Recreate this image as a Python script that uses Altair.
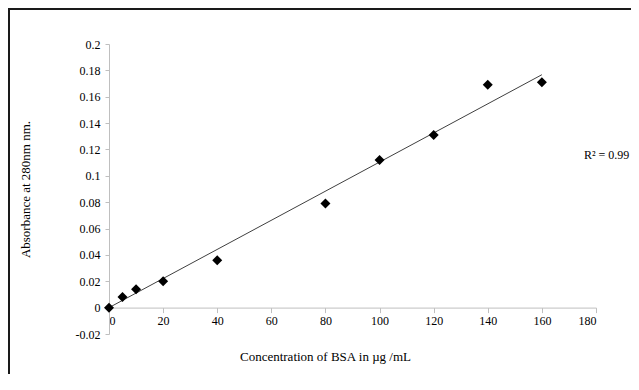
import altair as alt
import numpy as np
import pandas as pd

# Data
concentration = [0, 5, 10, 20, 40, 80, 100, 120, 140, 160]
absorbance = [0.0, 0.008, 0.014, 0.020, 0.036, 0.079, 0.112, 0.131, 0.169, 0.171]
x_ticks = [0, 20, 40, 60, 80, 100, 120, 140, 160, 180]
y_ticks = [-0.02, 0, 0.02, 0.04, 0.06, 0.08, 0.1, 0.12, 0.14, 0.16, 0.18, 0.2]
r2_label = "R² = 0.99"

df = pd.DataFrame({"conc": concentration, "abs": absorbance})

# Linear trendline forced through the origin (as in the spreadsheet chart)
xs = np.array(concentration, dtype=float)
ys = np.array(absorbance, dtype=float)
slope = float((xs * ys).sum() / (xs * xs).sum())
trend = pd.DataFrame({"conc": [0.0, xs.max()], "abs": [0.0, slope * xs.max()]})

W, H = 487, 290
FONT = "Liberation Serif"

x_enc = alt.X(
    "conc:Q",
    scale=alt.Scale(domain=[0, 180], nice=False),
    axis=alt.Axis(
        values=x_ticks,
        title="Concentration of BSA in µg /mL",
        offset=-26.4,
        grid=False,
        domainColor="#bfbfbf",
        tickColor="#bfbfbf",
        tickSize=5,
        labelPadding=3,
        titlePadding=24,
        titleX=216,
        labelOverlap=False,
    ),
)
y_enc = alt.Y(
    "abs:Q",
    scale=alt.Scale(domain=[-0.02, 0.2], nice=False),
    axis=alt.Axis(
        values=y_ticks,
        title="Absorbance at 280nm nm.",
        labelExpr="replace(format(datum.value, '~g'), '−', '-')",
        grid=False,
        domainColor="#bfbfbf",
        tickColor="#bfbfbf",
        tickSize=4,
        labelPadding=5,
        titlePadding=43,
        labelOverlap=False,
    ),
)

line = alt.Chart(trend).mark_line(color="#404040", strokeWidth=1).encode(x=x_enc, y=y_enc)
points = alt.Chart(df).mark_point(
    shape="diamond", filled=True, color="black", size=100, opacity=1
).encode(x=x_enc, y=y_enc)

label = alt.Chart(pd.DataFrame({"t": [r2_label]})).mark_text(
    align="left", baseline="middle", font=FONT, fontSize=12, color="black"
).encode(x=alt.value(475), y=alt.value(111), text="t:N")

border_top = alt.Chart(pd.DataFrame({"a": [0]})).mark_rule(
    color="#1a1a1a", strokeWidth=2, clip=False
).encode(x=alt.value(-100), x2=alt.value(W + 35), y=alt.value(-35))
border_left = alt.Chart(pd.DataFrame({"a": [0]})).mark_rule(
    color="#1a1a1a", strokeWidth=2, clip=False
).encode(x=alt.value(-100), y=alt.value(-36), y2=alt.value(H + 40))

chart = (
    alt.layer(line, points, label, border_top, border_left)
    .properties(
        width=W,
        height=H,
        padding={"left": 101, "top": 36, "right": 35, "bottom": 40},
        autosize=alt.AutoSizeParams(type="none"),
        background="white",
    )
    .configure_view(stroke=None)
    .configure_axis(
        labelFont=FONT,
        titleFont=FONT,
        labelFontSize=12,
        titleFontSize=13,
        labelColor="black",
        titleColor="black",
        titleFontWeight="normal",
    )
)

chart.save("out.html", embed_options={"renderer": "svg", "actions": False})
